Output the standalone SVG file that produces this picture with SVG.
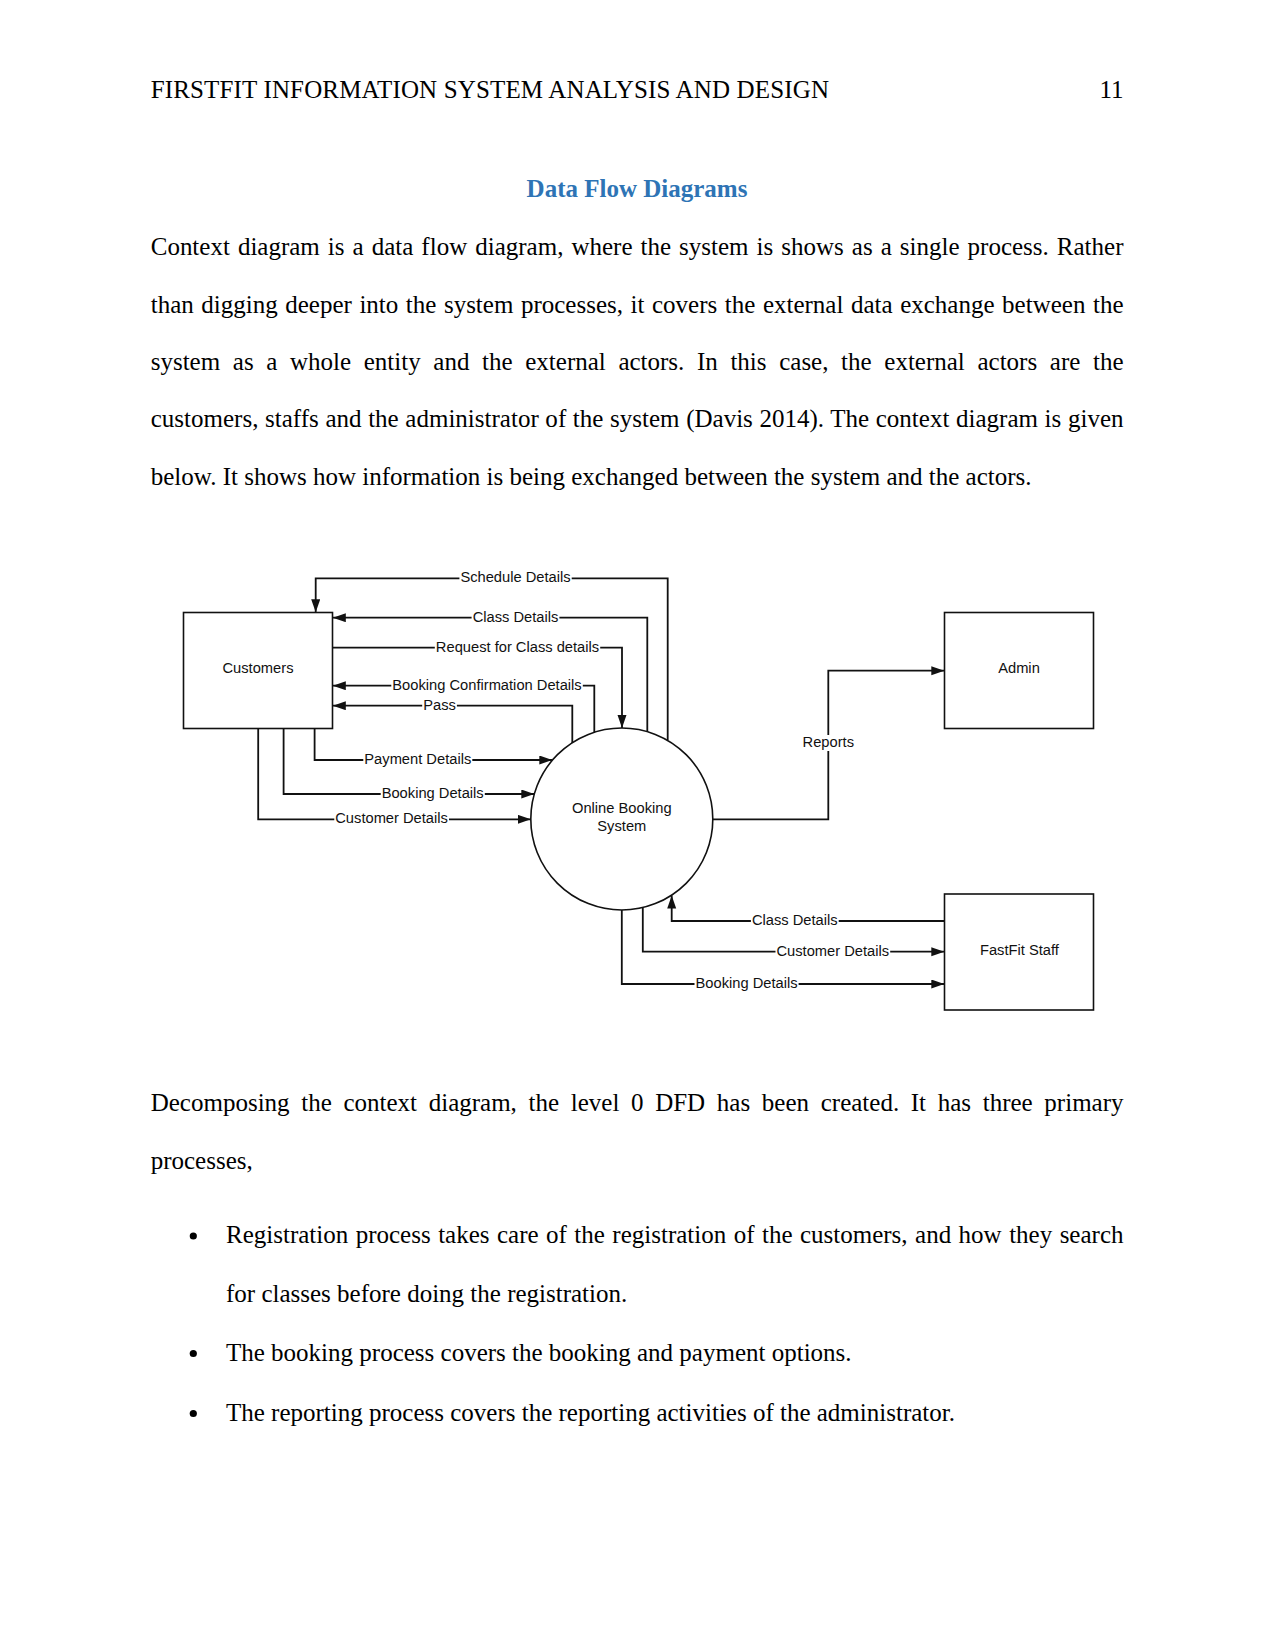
<svg xmlns="http://www.w3.org/2000/svg" width="1275" height="1650" viewBox="0 0 1275 1650">
<defs>
<style>
.body{font-family:"Liberation Serif","Times New Roman",serif;font-size:25px;fill:#000}
.title{font-family:"Liberation Serif","Times New Roman",serif;font-size:25px;font-weight:bold;fill:#2E74B5}
.lbl{font-family:"Liberation Sans",Arial,sans-serif;font-size:14.7px;fill:#111;text-anchor:middle}
.elbl{font-family:"Liberation Sans",Arial,sans-serif;font-size:14.7px;fill:#111;text-anchor:middle}
.bg{fill:#fff}
.box{fill:#fff;stroke:#111;stroke-width:1.6}
.flow{fill:none;stroke:#111;stroke-width:1.8;marker-end:url(#arr)}
</style>
<marker id="arr" markerUnits="userSpaceOnUse" markerWidth="14" markerHeight="10" refX="13" refY="4.5" orient="auto">
<path d="M0,0 L13,4.5 L0,9 z" fill="#111"/>
</marker>
</defs>
<rect width="1275" height="1650" fill="#fff"/>

<g id="page-text">
<text class="body" x="150.7" y="97.7" textLength="678.3" lengthAdjust="spacing">FIRSTFIT INFORMATION SYSTEM ANALYSIS AND DESIGN</text>
<text class="body" x="1123.5" y="97.7" text-anchor="end">11</text>
<text class="title" x="637" y="197.2" text-anchor="middle">Data Flow Diagrams</text>
<text class="body" x="150.7" y="255" word-spacing="1.78" textLength="972.8" lengthAdjust="spacing">Context diagram is a data flow diagram, where the system is shows as a single process. Rather</text>
<text class="body" x="150.7" y="312.5" word-spacing="1.3" textLength="972.8" lengthAdjust="spacing">than digging deeper into the system processes, it covers the external data exchange between the</text>
<text class="body" x="150.7" y="369.8" word-spacing="6.4" textLength="972.8" lengthAdjust="spacing">system as a whole entity and the external actors. In this case, the external actors are the</text>
<text class="body" x="150.7" y="427.2" word-spacing="0.35" textLength="972.8" lengthAdjust="spacing">customers, staffs and the administrator of the system (Davis 2014). The context diagram is given</text>
<text class="body" x="150.7" y="484.6">below. It shows how information is being exchanged between the system and the actors.</text>
<text class="body" x="150.7" y="1110.7" word-spacing="5.41" textLength="972.8" lengthAdjust="spacing">Decomposing the context diagram, the level 0 DFD has been created. It has three primary</text>
<text class="body" x="150.7" y="1168.5">processes,</text>
<circle cx="193.3" cy="1236" r="3.6" fill="#000"/>
<text class="body" x="226" y="1243.3" word-spacing="1.21" textLength="897.5" lengthAdjust="spacing">Registration process takes care of the registration of the customers, and how they search</text>
<text class="body" x="226" y="1302">for classes before doing the registration.</text>
<circle cx="193.3" cy="1353.5" r="3.6" fill="#000"/>
<text class="body" x="226" y="1360.7">The booking process covers the booking and payment options.</text>
<circle cx="193.3" cy="1413.5" r="3.6" fill="#000"/>
<text class="body" x="226" y="1420.7">The reporting process covers the reporting activities of the administrator.</text>
</g>

<g id="connectors">
<path class="flow" d="M667.7,740 V578.3 H315.7 V612.3"/>
<path class="flow" d="M647.3,732 V617.7 H332.8"/>
<path class="flow" d="M332.8,647.7 H622 V728"/>
<path class="flow" d="M594.3,732.5 V685.7 H332.8"/>
<path class="flow" d="M572.3,743 V705.7 H332.8"/>
<path class="flow" d="M314.6,728.5 V760 H552.3"/>
<path class="flow" d="M283.6,728.5 V794 H534.3"/>
<path class="flow" d="M258.2,728.5 V819.3 H530.8"/>
<path class="flow" d="M712.8,819.3 H828.3 V670.7 H944.3"/>
<path class="flow" d="M944.3,921 H671.7 V895.5"/>
<path class="flow" d="M642.8,907.6 V951.7 H944.3"/>
<path class="flow" d="M621.8,910 V984 H944.3"/>
<rect class="bg" x="459.4" y="571" width="112.3" height="15"/>
<rect class="bg" x="471.6" y="610.5" width="87.8" height="15"/>
<rect class="bg" x="434.8" y="640.5" width="165.4" height="15"/>
<rect class="bg" x="391.3" y="678.5" width="191.5" height="15"/>
<rect class="bg" x="422.2" y="698.5" width="34.7" height="15"/>
<rect class="bg" x="363.3" y="752.8" width="109" height="15"/>
<rect class="bg" x="380.7" y="786.8" width="104.1" height="15"/>
<rect class="bg" x="334.3" y="812.1" width="114.7" height="15"/>
<rect class="bg" x="801.6" y="735" width="53.5" height="16"/>
<rect class="bg" x="750.9" y="913.8" width="87.8" height="15"/>
<rect class="bg" x="775.5" y="944.5" width="114.7" height="15"/>
<rect class="bg" x="694.5" y="976.8" width="104.1" height="15"/>
<text class="elbl" x="515.5" y="582">Schedule Details</text>
<text class="elbl" x="515.5" y="621.5">Class Details</text>
<text class="elbl" x="517.5" y="651.5">Request for Class details</text>
<text class="elbl" x="487" y="689.5">Booking Confirmation Details</text>
<text class="elbl" x="439.5" y="709.5">Pass</text>
<text class="elbl" x="417.8" y="763.8">Payment Details</text>
<text class="elbl" x="432.7" y="797.8">Booking Details</text>
<text class="elbl" x="391.6" y="823.1">Customer Details</text>
<text class="elbl" x="828.3" y="747">Reports</text>
<text class="elbl" x="794.8" y="924.8">Class Details</text>
<text class="elbl" x="832.8" y="955.5">Customer Details</text>
<text class="elbl" x="746.6" y="987.8">Booking Details</text>
</g>

<g id="customers">
<rect class="box" x="183.5" y="612.5" width="149" height="116"/>
<text class="lbl" x="258" y="672.5">Customers</text>
</g>
<g id="admin">
<rect class="box" x="944.5" y="612.5" width="149" height="116"/>
<text class="lbl" x="1019" y="672.5">Admin</text>
</g>
<g id="fastfit-staff">
<rect class="box" x="944.5" y="894" width="149" height="116"/>
<text class="lbl" x="1019.4" y="954.5">FastFit Staff</text>
</g>
<g id="online-booking-system">
<circle class="box" cx="621.8" cy="819" r="91"/>
<text class="lbl" x="621.8" y="813">Online Booking</text>
<text class="lbl" x="621.8" y="831">System</text>
</g>
</svg>
